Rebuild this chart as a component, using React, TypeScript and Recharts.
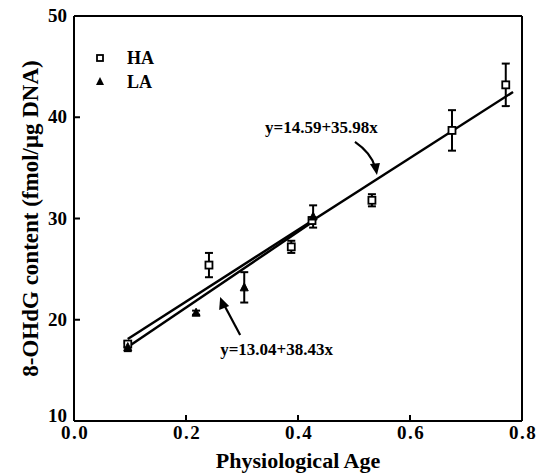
import React from 'react';
import {
  ComposedChart, XAxis, YAxis, Scatter, Line, ErrorBar, ReferenceLine, ReferenceDot,
} from 'recharts';

// Tick values
const xTicks = [0, 0.2, 0.4, 0.6, 0.8];
const yTicks = [10, 20, 30, 40, 50];

// HA series (open squares)
const haX = [0.096, 0.241, 0.388, 0.425, 0.532, 0.675, 0.771];
const haY = [17.6, 25.4, 27.2, 29.8, 31.8, 38.7, 43.2];
const haErr = [0.3, 1.2, 0.6, 0.3, 0.6, 2.0, 2.1];

// LA series (filled triangles)
const laX = [0.096, 0.218, 0.304, 0.427];
const laY = [17.3, 20.7, 23.2, 30.2];
const laErr = [0.4, 0.2, 1.5, 1.1];

// Regression line end points
const haFitX = [0.096, 0.784];
const haFitY = [18.1, 42.5];
const laFitX = [0.096, 0.427];
const laFitY = [17.3, 29.7];

// Annotation arrow tips
const annX = [0.541, 0.261];
const annY = [34.3, 22.25];
const annText = ['y=14.59+35.98x', 'y=13.04+38.43x'];

// Legend
const seriesNames = ['HA', 'LA'];

const haData = haX.map((x, i) => ({ x, y: haY[i], err: haErr[i] }));
const laData = laX.map((x, i) => ({ x, y: laY[i], err: laErr[i] }));
const haFit = haFitX.map((x, i) => ({ x, y: haFitY[i] }));
const laFit = laFitX.map((x, i) => ({ x, y: laFitY[i] }));

const FONT = '"Liberation Serif", "Times New Roman", serif';

const Square = (p: any) => (
  <rect x={p.cx - 3.5} y={p.cy - 3.5} width={7} height={7} fill="#fff" stroke="#000" strokeWidth={1.8} />
);
const Triangle = (p: any) => (
  <path d={`M${p.cx},${p.cy - 4.5} L${p.cx + 4},${p.cy + 3.5} L${p.cx - 4},${p.cy + 3.5} Z`} fill="#000" stroke="#000" strokeWidth={1} />
);

const XTick = (p: any) => {
  const v = p.payload.value;
  const inner = v > 0 && v < 0.8;
  return (
    <g>
      {inner && <line x1={p.x} x2={p.x} y1={p.y} y2={p.y - 6} stroke="#000" strokeWidth={2} />}
      <text x={p.x + 1} y={p.y + 18} textAnchor="middle" fontFamily={FONT} fontWeight="bold" fontSize={19} letterSpacing={1.5} fill="#000">
        {v.toFixed(1)}
      </text>
    </g>
  );
};

const YTick = (p: any) => {
  const v = p.payload.value;
  const inner = v > 10 && v < 50;
  return (
    <g>
      {inner && <line x1={p.x} x2={p.x + 6} y1={p.y} y2={p.y} stroke="#000" strokeWidth={2} />}
      <text x={p.x - 7} y={p.y + (v === 10 ? 1 : 6)} textAnchor="end" fontFamily={FONT} fontWeight="bold" fontSize={19} fill="#000">
        {v}
      </text>
    </g>
  );
};

const UpperArrow = (p: any) => {
  const { cx, cy } = p;
  return (
    <g>
      <path d={`M${cx - 22},${cy - 33} Q${cx - 6},${cy - 22} ${cx - 2},${cy - 8}`} fill="none" stroke="#000" strokeWidth={2.2} />
      <path d={`M${cx},${cy} L${cx - 7},${cy - 11} L${cx + 3},${cy - 12} Z`} fill="#000" />
      <text x={cx - 112} y={cy - 42} fontFamily={FONT} fontWeight="bold" fontSize={17} fill="#000">{annText[0]}</text>
    </g>
  );
};

const LowerArrow = (p: any) => {
  const { cx, cy } = p;
  return (
    <g>
      <line x1={cx + 20} y1={cy + 38} x2={cx + 4} y2={cy + 8} stroke="#000" strokeWidth={2.2} />
      <path d={`M${cx},${cy} L${cx + 9},${cy + 9} L${cx - 1},${cy + 13} Z`} fill="#000" />
      <text x={cx} y={cy + 58} fontFamily={FONT} fontWeight="bold" fontSize={17} fill="#000">{annText[1]}</text>
    </g>
  );
};

const LegendBox = () => (
  <svg width={80} height={50} style={{ position: 'absolute', left: 92, top: 46 }}>
    <rect x={5} y={9} width={6} height={6} fill="#fff" stroke="#000" strokeWidth={1.8} />
    <text x={35} y={18} fontFamily={FONT} fontWeight="bold" fontSize={18} fill="#000">{seriesNames[0]}</text>
    <path d="M8,31 L12,39 L4,39 Z" fill="#000" />
    <text x={35} y={42} fontFamily={FONT} fontWeight="bold" fontSize={18} fill="#000">{seriesNames[1]}</text>
  </svg>
);

export default function App() {
  return (
    <div style={{ position: 'absolute', left: 0, top: 0, width: 540, height: 473 }}>
      <ComposedChart width={540} height={473} margin={{ top: 16, right: 18, left: 0, bottom: 0 }}>
        <XAxis
          type="number" dataKey="x" domain={[0, 0.8]} ticks={xTicks} height={52}
          axisLine={{ stroke: '#000', strokeWidth: 2 }} tickLine={false} tickSize={0} tickMargin={0}
          tick={<XTick />} allowDataOverflow
          label={{ value: 'Physiological Age', position: 'insideBottom', offset: 5, style: { fontFamily: FONT, fontWeight: 'bold', fontSize: 22, fill: '#000' } }}
        />
        <YAxis
          type="number" dataKey="y" domain={[10, 50]} ticks={yTicks} width={74}
          axisLine={{ stroke: '#000', strokeWidth: 2 }} tickLine={false} tickSize={0} tickMargin={0}
          tick={<YTick />} allowDataOverflow
          label={{ value: '8-OHdG content (fmol/μg DNA)', angle: -90, position: 'insideLeft', offset: 30, style: { textAnchor: 'middle', fontFamily: FONT, fontWeight: 'bold', fontSize: 23, fill: '#000' } }}
        />
        <ReferenceLine y={50} stroke="#000" strokeWidth={2} />
        <ReferenceLine x={0.8} stroke="#000" strokeWidth={2} />
        <Line data={haFit} dataKey="y" stroke="#000" strokeWidth={2.5} dot={false} isAnimationActive={false} legendType="none" />
        <Line data={laFit} dataKey="y" stroke="#000" strokeWidth={2.5} dot={false} isAnimationActive={false} legendType="none" />
        <Scatter name="HA" data={haData} dataKey="y" shape={<Square />} isAnimationActive={false}>
          <ErrorBar dataKey="err" direction="y" width={4} stroke="#000" strokeWidth={2} />
        </Scatter>
        <Scatter name="LA" data={laData} dataKey="y" shape={<Triangle />} isAnimationActive={false}>
          <ErrorBar dataKey="err" direction="y" width={4} stroke="#000" strokeWidth={2} />
        </Scatter>
        <ReferenceDot x={annX[0]} y={annY[0]} r={0} shape={<UpperArrow />} />
        <ReferenceDot x={annX[1]} y={annY[1]} r={0} shape={<LowerArrow />} />
      </ComposedChart>
      <LegendBox />
    </div>
  );
}
